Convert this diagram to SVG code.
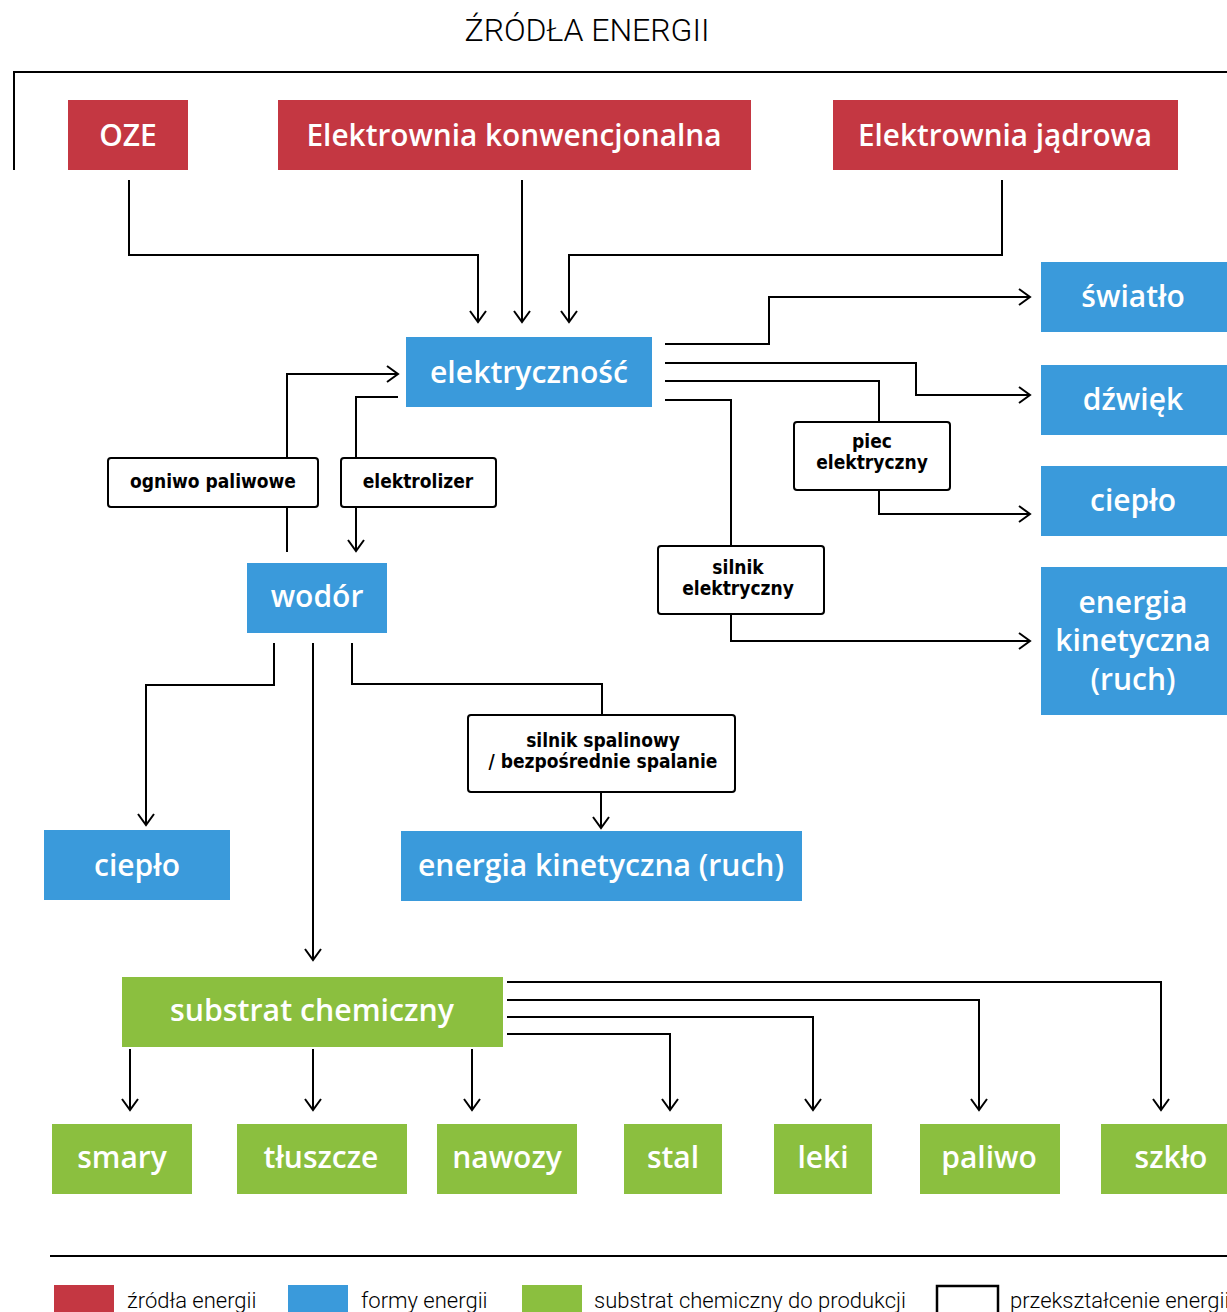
<svg xmlns="http://www.w3.org/2000/svg" width="1227" height="1312" viewBox="0 0 1227 1312">
<defs>
<marker id="arr" markerUnits="userSpaceOnUse" markerWidth="24" markerHeight="24" refX="12" refY="12" orient="auto" overflow="visible">
<path d="M1,4 L12,12 L1,20" fill="none" stroke="#000" stroke-width="2"/>
</marker>
<style>
.red{fill:#C43742}
.blue{fill:#3A9ADB}
.green{fill:#8BBF3F}
.lbl{fill:#fff;stroke:#000;stroke-width:2}
.t{font-family:"Open Sans","DejaVu Sans",sans-serif;font-weight:600;fill:#fff;text-anchor:middle;font-size:30px}
.k{font-family:"DejaVu Sans Condensed","DejaVu Sans",sans-serif;font-weight:bold;fill:#000;text-anchor:middle;font-size:19px}
.lg{font-family:Roboto,"Liberation Sans",sans-serif;font-weight:300;fill:#000;font-size:22px}
.c{fill:none;stroke:#000;stroke-width:2}
</style>
</defs>
<text x="587" y="41" font-family="Roboto, 'Liberation Sans', sans-serif" font-weight="300" font-size="31" text-anchor="middle" textLength="245" lengthAdjust="spacingAndGlyphs">ŹRÓDŁA ENERGII</text>
<path d="M14,170 V72 H1227" class="c" stroke-width="2.5"/>

<g id="connectors">
<path class="c" marker-end="url(#arr)" d="M129,180 V255 H478 V322"/>
<path class="c" marker-end="url(#arr)" d="M522,180 V322"/>
<path class="c" marker-end="url(#arr)" d="M1002,180 V255 H569 V322"/>
<path class="c" marker-end="url(#arr)" d="M665,344 H769 V297 H1030"/>
<path class="c" marker-end="url(#arr)" d="M665,363 H916 V395 H1030"/>
<path class="c" d="M665,381 H879 V422"/>
<path class="c" marker-end="url(#arr)" d="M879,490 V514 H1030"/>
<path class="c" d="M665,400 H731 V546"/>
<path class="c" marker-end="url(#arr)" d="M731,614 V641 H1030"/>
<path class="c" d="M287,552 V507"/>
<path class="c" marker-end="url(#arr)" d="M287,458 V374 H398"/>
<path class="c" d="M398,397 H356 V458"/>
<path class="c" marker-end="url(#arr)" d="M356,507 V551"/>
<path class="c" marker-end="url(#arr)" d="M274,643 V685 H146 V825"/>
<path class="c" marker-end="url(#arr)" d="M313,643 V960"/>
<path class="c" d="M352,643 V684 H602 V715"/>
<path class="c" marker-end="url(#arr)" d="M601,792 V828"/>
<path class="c" marker-end="url(#arr)" d="M507,982 H1161 V1110"/>
<path class="c" marker-end="url(#arr)" d="M507,1000 H979 V1110"/>
<path class="c" marker-end="url(#arr)" d="M507,1017 H813 V1110"/>
<path class="c" marker-end="url(#arr)" d="M507,1034 H670 V1110"/>
<path class="c" marker-end="url(#arr)" d="M130,1049 V1110"/>
<path class="c" marker-end="url(#arr)" d="M313,1049 V1110"/>
<path class="c" marker-end="url(#arr)" d="M472,1049 V1110"/>
</g>

<g id="oze"><rect class="red" x="68" y="100" width="120" height="70"/><text class="t" x="128" y="146">OZE</text></g>
<g id="konw"><rect class="red" x="278" y="100" width="473" height="70"/><text class="t" x="514" y="146" textLength="415" lengthAdjust="spacingAndGlyphs">Elektrownia konwencjonalna</text></g>
<g id="jadr"><rect class="red" x="833" y="100" width="345" height="70"/><text class="t" x="1005" y="146" textLength="294" lengthAdjust="spacingAndGlyphs">Elektrownia jądrowa</text></g>

<g id="elektrycznosc"><rect class="blue" x="406" y="337" width="246" height="70"/><text class="t" x="529" y="383" textLength="198" lengthAdjust="spacingAndGlyphs">elektryczność</text></g>
<g id="swiatlo"><rect class="blue" x="1041" y="262" width="186" height="70"/><text class="t" x="1133" y="307">światło</text></g>
<g id="dzwiek"><rect class="blue" x="1041" y="365" width="186" height="70"/><text class="t" x="1133" y="410">dźwięk</text></g>
<g id="cieplo1"><rect class="blue" x="1041" y="466" width="186" height="70"/><text class="t" x="1133" y="511">ciepło</text></g>
<g id="kin1"><rect class="blue" x="1041" y="567" width="186" height="148"/><text class="t" x="1133" y="613">energia</text><text class="t" x="1133" y="651">kinetyczna</text><text class="t" x="1133" y="690">(ruch)</text></g>

<g id="ogniwo"><rect class="lbl" x="108" y="458" width="210" height="49" rx="3"/><text class="k" x="213" y="488">ogniwo paliwowe</text></g>
<g id="elektrolizer"><rect class="lbl" x="341" y="458" width="155" height="49" rx="3"/><text class="k" x="418" y="488">elektrolizer</text></g>
<g id="piec"><rect class="lbl" x="794" y="422" width="156" height="68" rx="3"/><text class="k" x="872" y="448">piec</text><text class="k" x="872" y="469">elektryczny</text></g>
<g id="silnikel"><rect class="lbl" x="658" y="546" width="166" height="68" rx="3"/><text class="k" x="738" y="574">silnik</text><text class="k" x="738" y="595">elektryczny</text></g>

<g id="wodor"><rect class="blue" x="247" y="563" width="140" height="70"/><text class="t" x="317" y="607">wodór</text></g>
<g id="spalinowy"><rect class="lbl" x="468" y="715" width="267" height="77" rx="3"/><text class="k" x="603" y="747">silnik spalinowy</text><text class="k" x="603" y="768">/ bezpośrednie spalanie</text></g>
<g id="cieplo2"><rect class="blue" x="44" y="830" width="186" height="70"/><text class="t" x="137" y="876">ciepło</text></g>
<g id="kin2"><rect class="blue" x="401" y="831" width="401" height="70"/><text class="t" x="601" y="876" textLength="366" lengthAdjust="spacingAndGlyphs">energia kinetyczna (ruch)</text></g>

<g id="substrat"><rect class="green" x="122" y="977" width="381" height="70"/><text class="t" x="312" y="1021" textLength="284" lengthAdjust="spacingAndGlyphs">substrat chemiczny</text></g>
<g id="smary"><rect class="green" x="52" y="1124" width="140" height="70"/><text class="t" x="122" y="1168">smary</text></g>
<g id="tluszcze"><rect class="green" x="237" y="1124" width="170" height="70"/><text class="t" x="321" y="1168">tłuszcze</text></g>
<g id="nawozy"><rect class="green" x="437" y="1124" width="140" height="70"/><text class="t" x="507" y="1168">nawozy</text></g>
<g id="stal"><rect class="green" x="624" y="1124" width="98" height="70"/><text class="t" x="673" y="1168">stal</text></g>
<g id="leki"><rect class="green" x="774" y="1124" width="98" height="70"/><text class="t" x="823" y="1168">leki</text></g>
<g id="paliwo"><rect class="green" x="920" y="1124" width="140" height="70"/><text class="t" x="989" y="1168">paliwo</text></g>
<g id="szklo"><rect class="green" x="1101" y="1124" width="126" height="70"/><text class="t" x="1171" y="1168">szkło</text></g>

<g id="legend">
<line x1="50" y1="1256" x2="1227" y2="1256" stroke="#000" stroke-width="2"/>
<rect class="red" x="54" y="1285" width="60" height="30"/><text class="lg" x="127" y="1308">źródła energii</text>
<rect class="blue" x="288" y="1285" width="60" height="30"/><text class="lg" x="361" y="1308">formy energii</text>
<rect class="green" x="522" y="1285" width="60" height="30"/><text class="lg" x="594" y="1308">substrat chemiczny do produkcji</text>
<rect x="937" y="1286" width="61" height="30" fill="#fff" stroke="#000" stroke-width="2.5"/><text class="lg" x="1010" y="1308">przekształcenie energii</text>
</g>
</svg>
